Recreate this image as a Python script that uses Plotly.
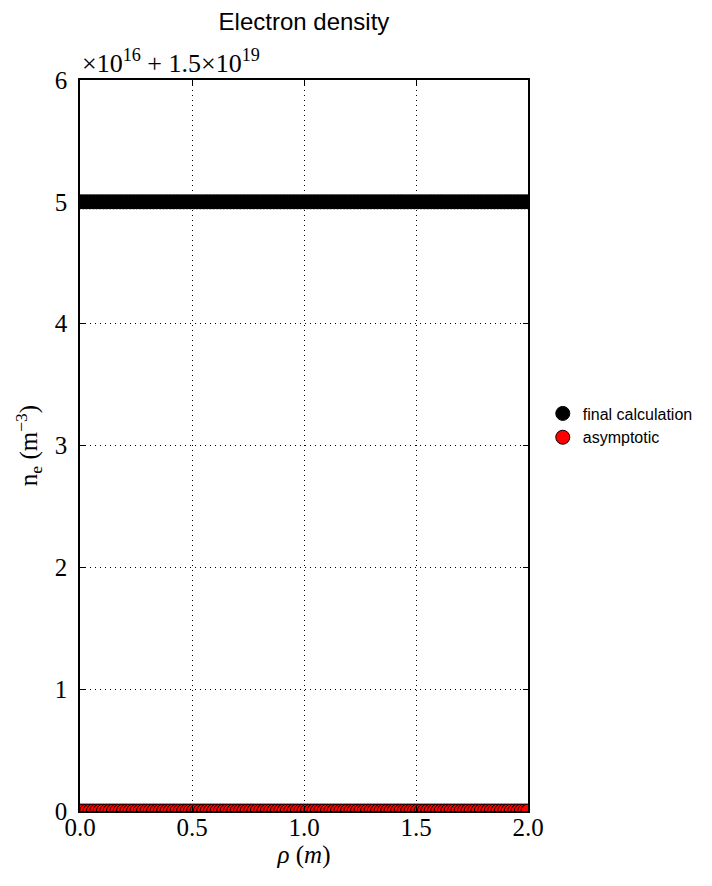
import numpy as np
import plotly.graph_objects as go

# radial grid (m)
rho = np.linspace(0.0, 2.0, 135).tolist()
# electron densities (m^-3)
ne_final_value = 1.505e19
ne_asym_value = 1.5e19
ne_final = [ne_final_value] * len(rho)
ne_asymptotic = [ne_asym_value] * len(rho)

offset = 1.5e19
scale = 1e16
ytick_labels = ["0", "1", "2", "3", "4", "5", "6"]
xtick_labels = ["0.0", "0.5", "1.0", "1.5", "2.0"]
xtick_vals = [0.0, 0.5, 1.0, 1.5, 2.0]

serif = "Liberation Serif"
sans = "Liberation Sans"

# page body adds an 8px offset; compensate so plot area sits at (80,80)-(528,811)
PAD = 8
L, T, W, H = 80 - PAD, 80 - PAD, 448, 731
FW, FH = 712, 886

fig = go.Figure()
fig.add_trace(go.Scatter(
    x=rho, y=ne_final, mode="markers", name="final calculation",
    marker=dict(size=14, color="black", line=dict(color="black", width=1)),
))
fig.add_trace(go.Scatter(
    x=rho, y=ne_asymptotic, mode="markers", name="asymptotic",
    marker=dict(size=14, color="red", line=dict(color="black", width=1)),
))

yvals = [offset + i * scale for i in range(len(ytick_labels))]

axis_common = dict(
    showline=True, linecolor="black", linewidth=1.5, mirror="allticks",
    ticks="inside", ticklen=5, tickcolor="black", tickwidth=1,
    showgrid=True, gridcolor="black", griddash="1px,4px", gridwidth=1,
    zeroline=False, tickfont=dict(family=serif, size=25, color="black"),
)

fig.update_xaxes(range=[0, 2], tickvals=xtick_vals, ticktext=xtick_labels,
                 ticklabelstandoff=-7,
                 title=dict(text="<i>ρ</i> (<i>m</i>)", font=dict(family=serif, size=25, color="black"), standoff=6),
                 **axis_common)
fig.update_yaxes(range=[offset, offset + 6 * scale], tickvals=yvals, ticktext=ytick_labels,
                 ticklabelstandoff=6,
                 title=dict(text="n<sub>e</sub> (m<sup>−3</sup>)", font=dict(family=serif, size=25, color="black"), standoff=10),
                 **axis_common)

fig.add_annotation(
    text="×10<sup>16</sup> + 1.5×10<sup>19</sup>", xref="paper", yref="paper",
    x=0.0, y=1.0, xanchor="left", yanchor="bottom", showarrow=False,
    font=dict(family=serif, size=26, color="black"), yshift=0,
)

fig.update_layout(
    width=FW, height=FH,
    margin=dict(l=L, r=FW - L - W, t=T, b=FH - T - H),
    paper_bgcolor="white", plot_bgcolor="white",
    title=dict(text="Electron density", x=(304 - PAD) / FW, xanchor="center",
               y=1 - 5 / FH, yanchor="top",
               font=dict(family=sans, size=24, color="black")),
    legend=dict(x=1.033, y=0.567, xanchor="left", yanchor="top", bgcolor="rgba(0,0,0,0)",
                font=dict(family=sans, size=16, color="black"), itemwidth=30, tracegroupgap=0),
    showlegend=True,
)

fig.write_html("out.html")
